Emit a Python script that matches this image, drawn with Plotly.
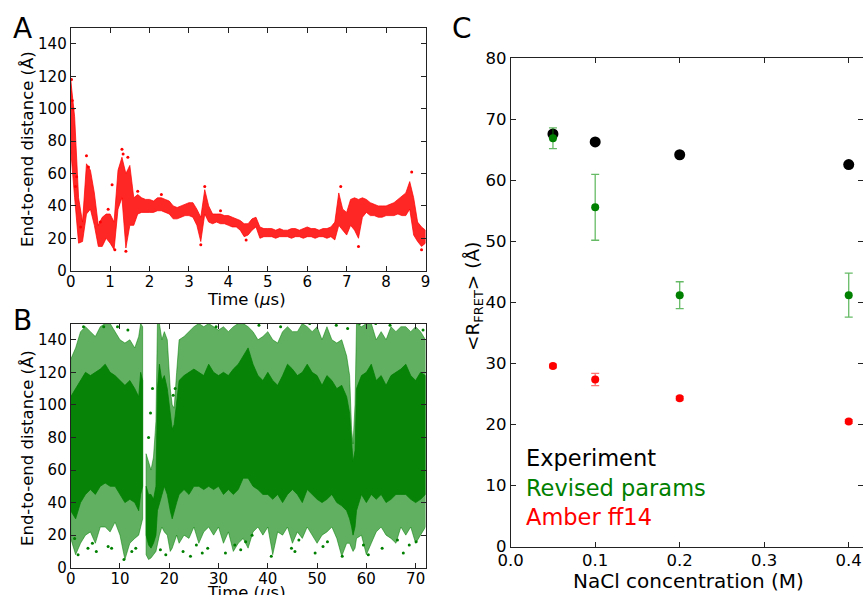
import plotly.graph_objects as go

W, H = 863, 595

# ---------------- Panel A: Amber ff14 trajectory (red) ----------------
tA = [0.0, 0.1, 0.2, 0.3, 0.4, 0.5, 0.6, 0.7, 0.8, 0.9,
      1.0, 1.1, 1.2, 1.3, 1.4, 1.5, 1.6, 1.7, 1.8, 1.9,
      2.0, 2.1, 2.2, 2.3, 2.4, 2.5, 2.6, 2.7, 2.8, 2.9,
      3.0, 3.1, 3.2, 3.3, 3.4, 3.5, 3.6, 3.7, 3.8, 3.9,
      4.0, 4.1, 4.2, 4.3, 4.4, 4.5, 4.6, 4.7, 4.8, 4.9,
      5.0, 5.1, 5.2, 5.3, 5.4, 5.5, 5.6, 5.7, 5.8, 5.9,
      6.0, 6.1, 6.2, 6.3, 6.4, 6.5, 6.6, 6.7, 6.8, 6.9,
      7.0, 7.1, 7.2, 7.3, 7.4, 7.5, 7.6, 7.7, 7.8, 7.9,
      8.0, 8.1, 8.2, 8.3, 8.4, 8.5, 8.6, 8.7, 8.8, 8.9, 9.0]
loA = [75, 45, 17, 18, 35, 38, 28, 15, 15, 20,
       17, 13, 38, 45, 14, 28, 28, 35, 36, 36,
       36, 36, 37, 37, 36, 35, 32, 32, 33, 34,
       34, 33, 28, 18, 35, 30, 29, 30, 29, 29,
       28, 27, 27, 25, 21, 22, 25, 27, 20, 21,
       21, 21, 20, 21, 21, 21, 20, 21, 21, 20,
       21, 21, 20, 21, 21, 20, 21, 19, 28, 25,
       22, 28, 25, 20, 33, 36, 34, 34, 33, 33,
       34, 34, 34, 35, 34, 34, 38, 22, 18, 15, 17]
hiA = [118, 95, 45, 30, 66, 62, 48, 28, 33, 35,
       35, 30, 62, 70, 60, 65, 45, 47, 45, 44,
       44, 43, 45, 45, 44, 43, 40, 39, 40, 41,
       42, 42, 38, 33, 50, 40, 35, 35, 35, 34,
       34, 33, 32, 31, 29, 29, 32, 33, 27, 26,
       26, 26, 25, 26, 25, 25, 26, 26, 25, 26,
       27, 26, 26, 25, 26, 26, 27, 30, 48, 38,
       36, 44, 45, 44, 45, 44, 42, 41, 40, 40,
       40, 41, 42, 44, 46, 48, 55, 45, 30, 27, 25]
outA_t = [0.02, 0.04, 0.06, 0.12, 0.15, 0.4, 0.45, 0.95, 1.05, 1.12, 1.3, 1.33,
          1.4, 1.45, 1.7, 2.3, 3.3, 3.4, 3.8, 4.45, 6.85, 7.3, 8.65, 8.9, 0.25, 0.75]
outA_y = [118, 105, 100, 52, 58, 71, 64, 38, 53, 13, 75, 72,
          12, 70, 49, 47, 16, 52, 37, 19, 52, 15, 61, 13, 27, 30]

# ---------------- Panel B: revised params trajectory (green) ----------------
tB = [0, 1, 2, 3, 4, 5, 6, 7, 8, 9, 10, 11, 12, 13, 13.8, 14.2, 14.6, None,
      15.3, 15.8, 16.3, 16.8, 17.3, 17.6, 18.0, 18.5, 19.0, 19.6, 20.2, 20.6, 21.0, 21.5,
      22, 23, 24, 25, 26, 27, 28, 29, 30, 31, 32, 33, 34, 35, 36, 37, 38, 39,
      40, 41, 42, 43, 44, 45, 46, 47, 48, 49, 50, 51, 52, 53, 54, 55, 56,
      56.6, 57.0, 57.3, 57.7, 58.0, 59, 60, 61, 62, 63, 64, 65, 66, 67, 68, 69, 70, 71, 72]
outLoB = [18, 8, 15, 20, 22, 15, 25, 25, 22, 28, 20, 5, 15, 18, 20, 25, 30, None,
          8, 5, 6, 8, 10, 15, 20, 25, 22, 20, 10, 12, 15, 20,
          15, 20, 18, 25, 15, 22, 25, 20, 25, 15, 22, 10, 15, 18, 12, 22, 25, 20,
          25, 8, 22, 20, 25, 15, 22, 18, 25, 20, 15, 20, 22, 25, 18, 7, 15,
          15, 12, 10, 12, 18, 20, 8, 15, 22, 25, 20, 18, 15, 25, 20, 25, 15, 20, 25]
coreLoB = [35, 30, 40, 45, 48, 45, 50, 52, 50, 50, 45, 40, 42, 40, 35, 45, 50, None,
           20, 14, 12, 15, 20, 35, 40, 45, 50, 45, 35, 30, 35, 40,
           45, 48, 45, 50, 50, 48, 50, 48, 50, 45, 48, 45, 48, 55, 55, 50, 48, 45,
           45, 42, 45, 40, 45, 48, 45, 40, 48, 45, 42, 40, 42, 45, 40, 38, 35,
           30, 25, 20, 25, 35, 45, 40, 45, 42, 45, 40, 42, 45, 45, 45, 42, 40, 42, 45]
coreHiB = [105, 110, 115, 120, 118, 120, 122, 125, 120, 118, 115, 112, 115, 110, 105, 120, 115, None,
           50, 45, 45, 42, 50, 110, 125, 115, 118, 110, 95, 85, 88, 100,
           115, 118, 120, 122, 120, 118, 125, 120, 118, 120, 118, 122, 125, 130, 135, 125, 118, 115,
           120, 115, 112, 118, 125, 122, 118, 120, 125, 120, 118, 112, 118, 115, 110, 112, 105,
           95, 75, 65, 72, 110, 118, 120, 125, 115, 118, 112, 118, 120, 122, 125, 118, 115, 120, 118]
outHiB = [128, 135, 145, 148, 145, 142, 148, 150, 150, 145, 140, 138, 140, 135, 142, 150, 148, None,
          70, 65, 60, 68, 90, 150, 150, 140, 145, 140, 110, 100, 98, 120,
          140, 142, 145, 148, 150, 148, 150, 148, 146, 148, 145, 148, 150, 150, 148, 145, 140, 142,
          145, 140, 138, 145, 148, 145, 145, 150, 148, 145, 148, 140, 148, 140, 138, 140, 130,
          118, 85, 76, 100, 150, 148, 150, 150, 140, 145, 140, 148, 145, 148, 148, 145, 148, 145, 140]
outB_t = [0.8, 1.5, 2.6, 3.5, 5.2, 6.7, 8.3, 9.5, 10.8, 11.6, 12.4, 13.2, 16.2, 16.6, 15.8,
          19.3, 21.2, 22.8, 24.3, 25.5, 27.8, 29.5, 31.4, 33.3, 34.5, 36.8, 38.2, 40.7, 42.6,
          44.8, 46.3, 48.5, 49.6, 52.1, 53.9, 55.1, 56.2, 58.6, 60.4, 61.9, 63.2, 64.8, 66.3,
          68.7, 70.1, 71.5, 4.4, 7.6, 18.2, 26.7, 35.5, 45.5, 51.2, 59.4, 67.5, 20.8]
outB_y = [18, 8, 148, 12, 10, 148, 12, 148, 5, 146, 10, 12, 95, 110, 80,
          8, 110, 10, 7, 14, 12, 148, 9, 14, 11, 20, 149, 7, 148,
          12, 17, 150, 9, 16, 149, 7, 147, 150, 8, 150, 12, 149, 17,
          14, 16, 146, 15, 13, 11, 9, 16, 10, 13, 14, 9, 106]

# ---------------- Panel C: <R_FRET> vs NaCl ----------------
nacl = [0.05, 0.1, 0.2, 0.4]
exp_R = [67.6, 66.3, 64.2, 62.6]
rev_R = [66.9, 55.6, 41.2, 41.2]
rev_err = [1.7, 5.4, 2.2, 3.6]
amb_R = [29.6, 27.4, 24.3, 20.5]
amb_err = [0.3, 1.0, 0.3, 0.3]
legend_labels = ["Experiment", "Revised params", "Amber ff14"]
legend_colors = ["black", "green", "red"]


def px(x):
    return x / W


def py(y):
    return 1 - y / H


def band_polygons(t, lo, hi):
    xs, ys = [], []
    seg = []
    for a, b, c in list(zip(t, lo, hi)) + [(None, None, None)]:
        if a is None:
            if seg:
                st = [s[0] for s in seg]
                sl = [s[1] for s in seg]
                sh = [s[2] for s in seg]
                xs += st + st[::-1] + [st[0], None]
                ys += sh + sl[::-1] + [sh[0], None]
            seg = []
        else:
            seg.append((a, b, c))
    return xs, ys


fig = go.Figure()

# Panel A
xa, ya = band_polygons(tA, loA, hiA)
fig.add_trace(go.Scatter(x=xa, y=ya, fill="toself", fillcolor="rgba(255,0,0,0.85)",
                         line=dict(color="rgba(255,0,0,0.9)", width=0.8), mode="lines",
                         xaxis="x", yaxis="y", hoverinfo="skip", showlegend=False))
fig.add_trace(go.Scatter(x=outA_t, y=outA_y, mode="markers",
                         marker=dict(color="red", size=3), xaxis="x", yaxis="y", showlegend=False))

# Panel B
xo, yo = band_polygons(tB, outLoB, outHiB)
fig.add_trace(go.Scatter(x=xo, y=yo, fill="toself", fillcolor="rgba(0,128,0,0.62)",
                         line=dict(color="rgba(0,128,0,0.65)", width=0.8), mode="lines",
                         xaxis="x2", yaxis="y2", hoverinfo="skip", showlegend=False))
xc, yc = band_polygons(tB, coreLoB, coreHiB)
fig.add_trace(go.Scatter(x=xc, y=yc, fill="toself", fillcolor="rgba(0,128,0,0.92)",
                         line=dict(color="rgba(0,128,0,0.92)", width=0.8), mode="lines",
                         xaxis="x2", yaxis="y2", hoverinfo="skip", showlegend=False))
fig.add_trace(go.Scatter(x=outB_t, y=outB_y, mode="markers",
                         marker=dict(color="green", size=3), xaxis="x2", yaxis="y2", showlegend=False))

# Panel C
fig.add_trace(go.Scatter(x=nacl, y=exp_R, mode="markers",
                         marker=dict(color="black", size=11), xaxis="x3", yaxis="y3", showlegend=False))
fig.add_trace(go.Scatter(x=nacl, y=rev_R, mode="markers",
                         marker=dict(color="green", size=8),
                         error_y=dict(type="data", array=rev_err, color="rgba(0,140,0,0.6)",
                                      thickness=1.3, width=4),
                         xaxis="x3", yaxis="y3", showlegend=False))
fig.add_trace(go.Scatter(x=nacl, y=amb_R, mode="markers",
                         marker=dict(color="red", size=8),
                         error_y=dict(type="data", array=amb_err, color="rgba(255,0,0,0.55)",
                                      thickness=1.3, width=4),
                         xaxis="x3", yaxis="y3", showlegend=False))

axis_common = dict(showline=True, linecolor="#222", linewidth=1, mirror="allticks",
                   ticks="inside", ticklen=5, tickcolor="#222", showgrid=False, zeroline=False,
                   automargin=False,
                   tickfont=dict(family="DejaVu Sans", size=15, color="black"))
axis_x = {**axis_common, "ticklabelstandoff": -3}
axis_c = {**axis_common, "tickfont": dict(family="DejaVu Sans", size=16.5, color="black")}
axis_cx = {**axis_c, "ticklabelstandoff": -2}

fig.update_layout(
    width=W, height=H, margin=dict(l=0, r=0, t=0, b=0, pad=0, autoexpand=False),
    paper_bgcolor="white", plot_bgcolor="white",
    font=dict(family="DejaVu Sans", color="black"),
    showlegend=False,
    xaxis=dict(domain=[px(70.7), px(425.5)], anchor="y", range=[0, 9],
               tickvals=[0, 1, 2, 3, 4, 5, 6, 7, 8, 9], **axis_x),
    yaxis=dict(domain=[py(270.7), py(27.7)], anchor="x", range=[0, 150],
               tickvals=[0, 20, 40, 60, 80, 100, 120, 140], **axis_common),
    xaxis2=dict(domain=[px(70.7), px(425.5)], anchor="y2", range=[0, 72],
                tickvals=[0, 10, 20, 30, 40, 50, 60, 70], **axis_x),
    yaxis2=dict(domain=[py(567.7), py(323.5)], anchor="x2", range=[0, 150],
                tickvals=[0, 20, 40, 60, 80, 100, 120, 140], **axis_common),
    xaxis3=dict(domain=[px(510.7), 1.0], anchor="y3", range=[0, 0.4169],
                tickvals=[0, 0.1, 0.2, 0.3, 0.4], ticktext=["0.0", "0.1", "0.2", "0.3", "0.4"],
                **axis_cx),
    yaxis3=dict(domain=[py(546.7), py(58.3)], anchor="x3", range=[0, 80],
                tickvals=[0, 10, 20, 30, 40, 50, 60, 70, 80], **axis_c),
)

ann = []


def add_text(x, y, text, size, color="black", angle=0, xanchor="center", yanchor="middle"):
    ann.append(dict(x=px(x), y=py(y), xref="paper", yref="paper", text=text, showarrow=False,
                    textangle=angle, xanchor=xanchor, yanchor=yanchor,
                    font=dict(family="DejaVu Sans", size=size, color=color)))


add_text(22, 28, "A", 28)
add_text(22, 320, "B", 28)
add_text(462, 28, "C", 28)
add_text(27, 149, "End-to-end distance (Å)", 16.5, angle=-90)
add_text(27, 448, "End-to-end distance (Å)", 16.5, angle=-90)
add_text(247, 299, "Time (<i>μ</i>s)", 16.5)
add_text(247, 592, "Time (<i>μ</i>s)", 16.5)
add_text(688, 581, "NaCl concentration (M)", 20)
add_text(474, 297, "&lt;R<sub>FRET</sub>&gt; (Å)", 18.5, angle=-90)
for i, (lab, col) in enumerate(zip(legend_labels, legend_colors)):
    add_text(524, 458 + 29.5 * i, lab, 22.5, color=col, xanchor="left")

fig.update_layout(annotations=ann)
fig.write_html("out.html", config={"displayModeBar": False},
               post_script="document.body.style.margin='0px';document.body.style.overflow='hidden';")
